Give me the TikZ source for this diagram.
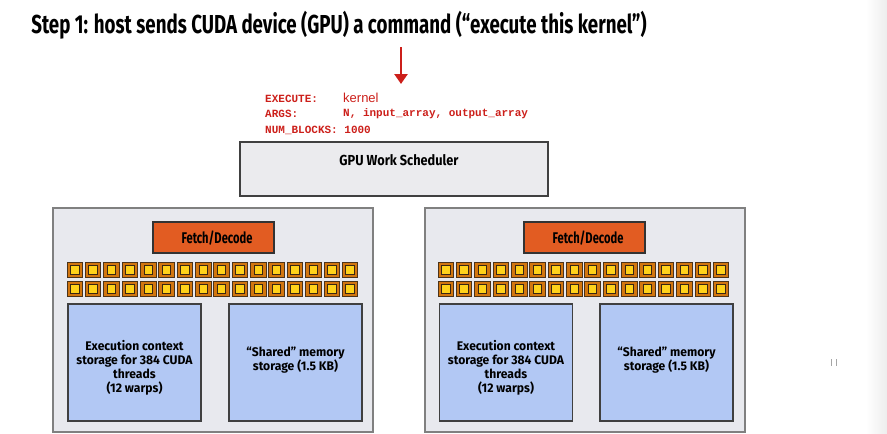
\documentclass[tikz,border=0pt]{standalone}
\usepackage{fontspec}
\setmainfont{Fira Sans}
\setmonofont{Liberation Mono}
\newfontfamily\titlefont[FakeStretch=0.72]{Fira Sans}
\newfontfamily\headfont[FakeStretch=0.88]{Fira Sans}
\newfontfamily\slidefont[FakeStretch=0.97]{Fira Sans}
\newfontfamily\plainsans{Liberation Sans}
\usetikzlibrary{arrows.meta}
\usetikzlibrary{positioning}

\definecolor{coregray}{HTML}{E8E9EE}
\definecolor{schedgray}{HTML}{EBEBEE}
\definecolor{fetchorange}{HTML}{E25C22}
\definecolor{aluorange}{HTML}{D2760F}
\definecolor{aluyellow}{HTML}{FFD21A}
\definecolor{ctxblue}{HTML}{B2C8F4}
\definecolor{cmdred}{HTML}{CC1F1A}

\tikzset{
    corebox/.style={draw=black!50, line width=1.2pt, fill=coregray, minimum width=320pt, minimum height=224pt, inner sep=0pt},
    schedbox/.style={draw=black!75, line width=1.8pt, fill=schedgray, minimum width=308pt, minimum height=54pt, inner sep=0pt},
    fetchbox/.style={draw=black!80, line width=1.2pt, fill=fetchorange, minimum width=121pt, minimum height=31pt, inner sep=0pt},
    storebox/.style={draw=black!75, line width=1.2pt, fill=ctxblue, minimum width=133pt, minimum height=117pt, inner sep=0pt},
    boxlabel/.style={font=\slidefont\bfseries\fontsize{12.5}{14}\selectfont, align=center, inner sep=0pt},
    headlabel/.style={font=\titlefont\bfseries\fontsize{15.5}{18}\selectfont, inner sep=0pt},
    cmdtext/.style={anchor=west, text=cmdred, font=\ttfamily\bfseries\fontsize{11}{13}\selectfont, inner sep=0pt}
}

\begin{document}
\begin{tikzpicture}[x=1pt, y=-1pt]
        \useasboundingbox (0,0) rectangle (887,434);
        \shade[left color=white, right color=black!7] (866,0) rectangle (887,434);

        % title
        \node[font=\titlefont\bfseries\fontsize{26}{30}\selectfont, inner sep=0pt] (title) at (339,25) {Step 1: host sends CUDA device (GPU) a command (“execute this kernel”)};

        % command sent by the host
        \coordinate (host) at (401,47);
        \coordinate (cmdtip) at (401,84);
        \draw[cmdred, line width=2.6pt, -{Triangle[length=10pt, width=13pt]}] (host) -- (cmdtip);
        \node[cmdtext] (exec) at (265,99) {EXECUTE:};
        \node[anchor=west, text=cmdred, font=\plainsans\fontsize{13}{15}\selectfont, inner sep=0pt] (kern) at (343,98) {kernel};
        \node[cmdtext] (args) at (265,114) {ARGS:};
        \node[cmdtext] (argval) at (343,114) {N, input\_array, output\_array};
        \node[cmdtext] (blocks) at (265,130) {NUM\_BLOCKS: 1000};

        % scheduler
        \node[schedbox] (sched) at (394,169) {};
        \node[font=\headfont\bfseries\fontsize{14.5}{16}\selectfont, inner sep=0pt] (schedtext) at (399,160) {GPU Work Scheduler};

        % core 0
        \node[corebox] (core0) at (213,320) {};
        \node[fetchbox] (fetch0) at (213.5,237.5) {};
        \node[headlabel] at (217,238) {Fetch/Decode};
        \node[storebox] (ctx0) at (134.5,362.5) {};
        \node[boxlabel] at (134.5,368) {Execution context\\storage for 384 CUDA\\threads\\(12 warps)};
        \node[storebox] (shmem0) at (295.5,362.5) {};
        \node[boxlabel] at (295.5,360) {“Shared” memory\\storage (1.5 KB)};

        % core 1
        \node[corebox] (core1) at (585,320) {};
        \node[fetchbox] (fetch1) at (584.5,237.5) {};
        \node[headlabel] at (588,238) {Fetch/Decode};
        \node[storebox] (ctx1) at (506,362.5) {};
        \node[boxlabel] at (506,368) {Execution context\\storage for 384 CUDA\\threads\\(12 warps)};
        \node[storebox] (shmem1) at (666.5,362.5) {};
        \node[boxlabel] at (666.5,360) {“Shared” memory\\storage (1.5 KB)};

        % ALUs
        \foreach \xs in {67,438} {
            \foreach \i in {0,...,15} {
                \foreach \ys in {262,281} {
                    \filldraw[fill=aluorange, draw=black!60!brown, line width=0.8pt] (\xs+18.35*\i,\ys) rectangle ++(15.5,15.5);
                    \filldraw[fill=aluyellow, draw=black!70!brown, line width=0.8pt] (\xs+18.35*\i+3.5,\ys+3.5) rectangle ++(8.5,8.5);
                }
            }
        }

        \draw[black!35, line width=0.7pt] (831,359) -- (831,366);
        \draw[black!35, line width=0.7pt] (836,359) -- (836,366);
    \end{tikzpicture}
\end{document}
